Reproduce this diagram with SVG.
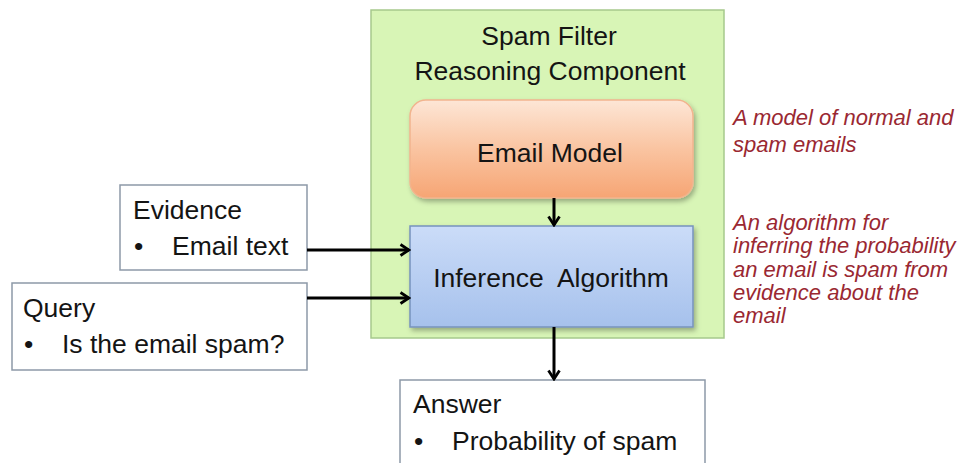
<svg xmlns="http://www.w3.org/2000/svg" width="965" height="463" viewBox="0 0 965 463">
  <defs>
    <linearGradient id="gradOrange" x1="0" y1="0" x2="0" y2="1">
      <stop offset="0" stop-color="#fde6d6"/>
      <stop offset="0.5" stop-color="#fac4a1"/>
      <stop offset="1" stop-color="#f6a574"/>
    </linearGradient>
    <linearGradient id="gradBlue" x1="0" y1="0" x2="0" y2="1">
      <stop offset="0" stop-color="#cbdcf8"/>
      <stop offset="1" stop-color="#a6c1ec"/>
    </linearGradient>
    <filter id="shadow" x="-10%" y="-10%" width="125%" height="135%">
      <feDropShadow dx="2" dy="3" stdDeviation="2.5" flood-color="#000" flood-opacity="0.3"/>
    </filter>
    <marker id="arrow" viewBox="0 0 14 14" refX="12.5" refY="7" markerWidth="14" markerHeight="14" markerUnits="userSpaceOnUse" orient="auto">
      <path d="M4,1.5 L12.5,7 L4,12.5" fill="none" stroke="#000" stroke-width="2.8" stroke-linejoin="miter"/>
    </marker>
    <style>
      .lbl { font-family: "Liberation Sans", Arial, sans-serif; font-size: 26.5px; fill: #141414; }
      .ctr { text-anchor: middle; }
      .note { font-family: "Liberation Sans", Arial, sans-serif; font-size: 22px; font-style: italic; fill: #9a2832; }
      .plain { fill: #ffffff; stroke: #8d99a8; stroke-width: 1.5; }
      .conn { stroke: #000; stroke-width: 3; fill: none; marker-end: url(#arrow); }
    </style>
  </defs>

  <rect width="965" height="463" fill="#ffffff"/>

  <!-- reasoning component container -->
  <g id="reasoning-component">
    <rect x="371" y="10" width="353" height="328" fill="#d8f5b6" stroke="#a6c98c" stroke-width="1.5"/>
    <text class="lbl ctr" x="549" y="45">Spam Filter</text>
    <text class="lbl ctr" x="550" y="80">Reasoning Component</text>
  </g>

  <g id="email-model">
    <rect x="410" y="100" width="283" height="98" rx="16" ry="16" fill="url(#gradOrange)" stroke="#f2b48e" stroke-width="1.5" filter="url(#shadow)"/>
    <text class="lbl ctr" x="550" y="162">Email Model</text>
  </g>

  <g id="inference-algorithm">
    <rect x="410" y="226" width="283" height="101" fill="url(#gradBlue)" stroke="#7792bd" stroke-width="1.5" filter="url(#shadow)"/>
    <text class="lbl ctr" x="551" y="287" xml:space="preserve">Inference  Algorithm</text>
  </g>

  <g id="evidence">
    <rect class="plain" x="120" y="185" width="187" height="85"/>
    <text class="lbl" x="133" y="219">Evidence</text>
    <text class="lbl" x="134" y="255">•</text>
    <text class="lbl" x="172" y="255">Email text</text>
  </g>

  <g id="query">
    <rect class="plain" x="12" y="283" width="295" height="87"/>
    <text class="lbl" x="23" y="317">Query</text>
    <text class="lbl" x="24" y="353">•</text>
    <text class="lbl" x="62" y="353">Is the email spam?</text>
  </g>

  <g id="answer">
    <rect class="plain" x="400" y="380" width="305" height="95"/>
    <text class="lbl" x="413" y="413">Answer</text>
    <text class="lbl" x="414" y="450">•</text>
    <text class="lbl" x="452" y="450">Probability of spam</text>
  </g>

  <g id="model-note">
    <text class="note" x="733" y="125">A model of normal and</text>
    <text class="note" x="733" y="152">spam emails</text>
  </g>

  <g id="algorithm-note">
    <text class="note" x="733" y="230">An algorithm for</text>
    <text class="note" x="733" y="253">inferring the probability</text>
    <text class="note" x="733" y="277">an email is spam from</text>
    <text class="note" x="733" y="300">evidence about the</text>
    <text class="note" x="733" y="323">email</text>
  </g>

  <!-- connectors -->
  <g id="connectors">
    <line class="conn" x1="554" y1="198" x2="554" y2="225"/>
    <line class="conn" x1="307" y1="250" x2="409" y2="250"/>
    <line class="conn" x1="307" y1="298" x2="409" y2="298"/>
    <line class="conn" x1="554" y1="327" x2="554" y2="379"/>
  </g>
</svg>
